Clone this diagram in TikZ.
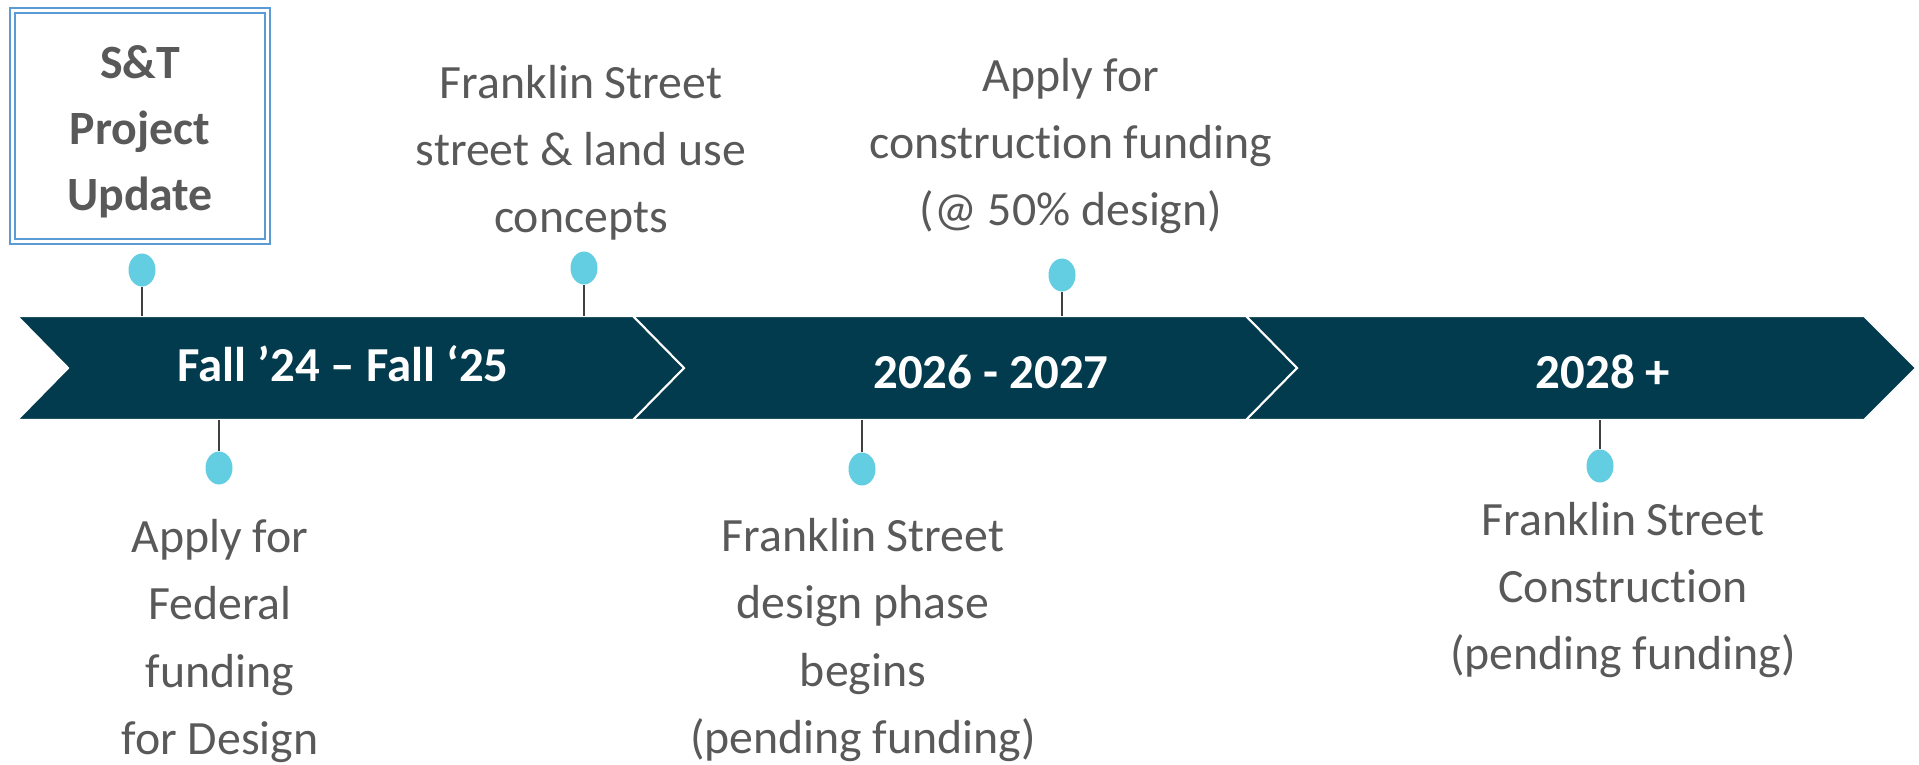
\documentclass[tikz,border=0pt]{standalone}
\usepackage{fontspec}
\setmainfont{Carlito}[Ligatures=NoCommon]
\usetikzlibrary{shapes.geometric}
\definecolor{bandteal}{HTML}{023B4D}
\definecolor{pincyan}{HTML}{63CEE1}
\definecolor{notegray}{HTML}{595959}
\definecolor{frameblue}{HTML}{5B9BD5}
\definecolor{stemgray}{HTML}{404040}

\tikzset{
  leg/.style={fill=bandteal,draw=white,line width=0.6pt},
  era/.style={font=\fontsize{13.9}{16}\selectfont\bfseries,text=white,anchor=base,inner sep=0pt},
  note/.style={font=\fontsize{13.6}{19.1}\selectfont,text=notegray,align=center,inner sep=0pt},
  pindot/.style={ellipse,fill=pincyan,minimum width=2.7mm,minimum height=3.3mm,inner sep=0pt},
  stem/.style={draw=stemgray,line width=0.55pt},
}

\begin{document}
\begin{tikzpicture}[x=0.1mm,y=-0.1mm]
\useasboundingbox (0,0) rectangle (1919,764);
\coordinate (bandtop) at (0,316);
\coordinate (bandbot) at (0,420);
% the three legs of the arrow
\foreach \l/\r in {17/633,633/1246,1246/1864}
  \draw[leg] (\l,316) -- (\r,316) -- (\r+52,368) -- (\r,420) -- (\l,420) -- (\l+51,368) -- cycle;
\node[era] (era1) at (343,381) {Fall ’24 – Fall ‘25};
\node[era] (era2) at (991,388) {2026 - 2027};
\node[era] (era3) at (1603,388) {2028 +};

% title box
\node[draw=frameblue,double=white,double distance=1pt,line width=0.6pt,fill=white,
  minimum width=25.5mm,minimum height=23.1mm] (titlebox) at (140,126) {};
\node[align=center,text=notegray,inner sep=0pt,
  font=\fontsize{13.6}{18.8}\selectfont\bfseries] (title) at (140,132) {S\&T\\Project\\Update};

% milestones above
\node[pindot] (d1) at (142,270) {};
\node[pindot] (d2) at (584,268) {};
\node[pindot] (d3) at (1062,275) {};
\draw[stem] (d1.south) -- (d1 |- bandtop);
\draw[stem] (d2.south) -- (d2 |- bandtop);
\draw[stem] (d3.south) -- (d3 |- bandtop);
\node[note] (concepts) at (581,153) {Franklin Street\\street \& land use\\concepts};
\node[note] (cfund) at (1071,146) {Apply for\\construction funding\\(@ 50\% design)};

% milestones below
\node[pindot] (d4) at (219,468) {};
\node[pindot] (d5) at (862,469) {};
\node[pindot] (d6) at (1600,466) {};
\draw[stem] (d4.north) -- (d4 |- bandbot);
\draw[stem] (d5.north) -- (d5 |- bandbot);
\draw[stem] (d6.north) -- (d6 |- bandbot);
\node[note] (federal) at (220,641) {Apply for\\Federal\\funding\\for Design};
\node[note] (design) at (863,640) {Franklin Street\\design phase\\begins\\(pending funding)};
\node[note] (build) at (1623,590) {Franklin Street\\Construction\\(pending funding)};
\end{tikzpicture}
\end{document}
